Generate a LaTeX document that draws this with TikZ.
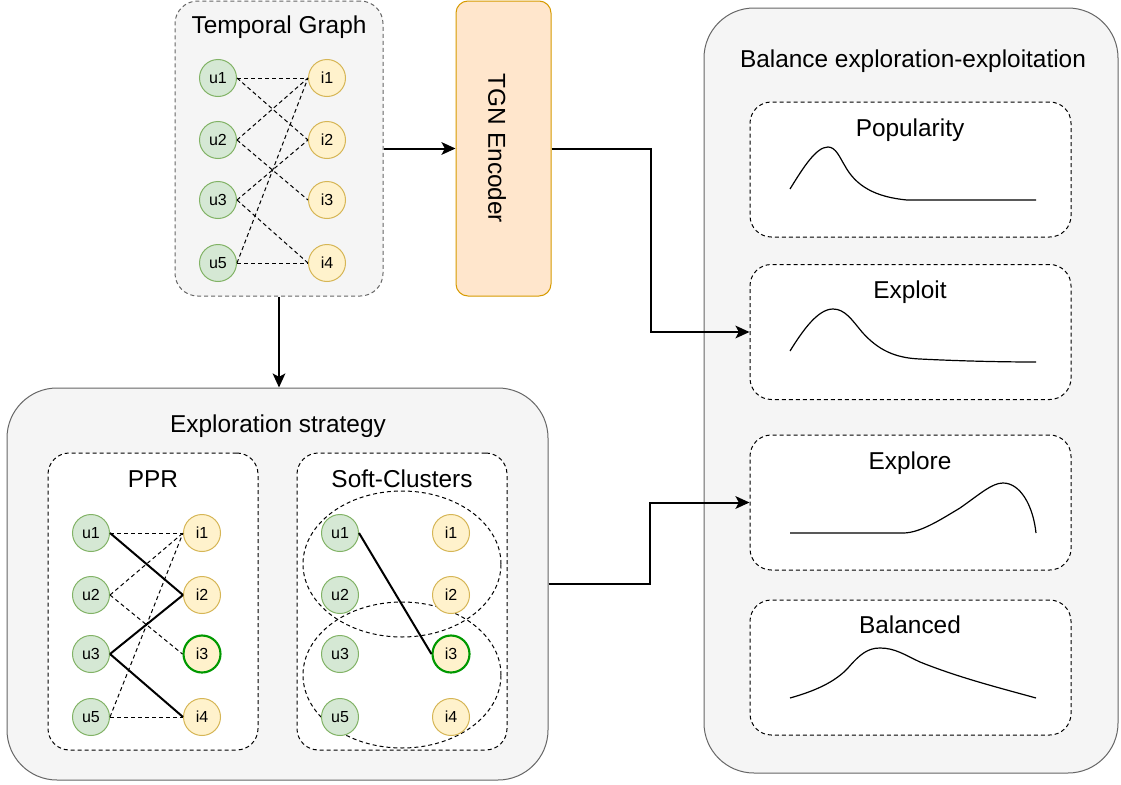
\documentclass[tikz,border=0pt]{standalone}
\usepackage{fontspec}
\setmainfont{Liberation Sans}
\usetikzlibrary{arrows.meta,shapes.geometric}
\definecolor{panelfill}{HTML}{F5F5F5}
\definecolor{panelline}{HTML}{666666}
\definecolor{userfill}{HTML}{D5E8D4}
\definecolor{userline}{HTML}{82B366}
\definecolor{itemfill}{HTML}{FFF2CC}
\definecolor{itemline}{HTML}{D6B656}
\definecolor{encfill}{HTML}{FFE6CC}
\definecolor{encline}{HTML}{D79B00}
\definecolor{hitline}{HTML}{009900}

\begin{document}
\begin{tikzpicture}[x=0.75pt,y=-0.75pt,
  panel/.style={draw=panelline, fill=panelfill, line width=0.75pt, rounded corners=37.5pt, inner sep=0},
  graphpanel/.style={draw=panelline, fill=panelfill, line width=0.75pt, dash pattern=on 3pt off 2.25pt, rounded corners=17pt, inner sep=0},
  subpanel/.style={draw=black, fill=white, line width=0.75pt, dash pattern=on 3pt off 2.25pt, rounded corners=16pt, inner sep=0},
  encoder/.style={draw=encline, fill=encfill, line width=0.75pt, rounded corners=9pt, inner sep=0},
  title/.style={font=\fontsize{18.3}{21}\selectfont, anchor=base, inner sep=0},
  user/.style={circle, draw=userline, fill=userfill, line width=0.75pt, minimum size=27.75pt, inner sep=0, font=\fontsize{12}{14}\selectfont},
  item/.style={circle, draw=itemline, fill=itemfill, line width=0.75pt, minimum size=27.75pt, inner sep=0, font=\fontsize{12}{14}\selectfont},
  hit/.style={draw=hitline, line width=1.6pt},
  link/.style={line width=0.75pt, dash pattern=on 3pt off 2.25pt},
  path/.style={line width=1.5pt},
  cluster/.style={ellipse, draw=black, line width=0.75pt, dash pattern=on 3pt off 2.25pt, inner sep=0},
  conn/.style={line width=1.5pt, -{Stealth[length=10.5pt,width=9.5pt,inset=2.5pt]}},
  curve/.style={line width=0.9pt, line join=round},
]
% canvas
\fill[white] (0,0) rectangle (1121,785);
\useasboundingbox (0,0) rectangle (1121,785);

% ---------- containers ----------
\node[graphpanel, minimum width=156pt, minimum height=221.25pt] (tg) at (279,148.5) {};
\node[title] (tgtitle) at (279,33) {Temporal Graph};

\node[encoder, minimum width=71.25pt, minimum height=221.25pt] (tgn) at (503.5,148.5) {};
\node[font=\fontsize{18.3}{21}\selectfont, rotate=-90, inner sep=0] (tgnlabel) at (497,148.5) {TGN Encoder};

\node[panel, minimum width=405.75pt, minimum height=294pt] (expl) at (277.5,584) {};
\node[title] (expltitle) at (278,432) {Exploration strategy};

\node[subpanel, minimum width=157.5pt, minimum height=222.75pt] (ppr) at (153,601.5) {};
\node[title] (pprtitle) at (153,487) {PPR};

\node[subpanel, minimum width=157.5pt, minimum height=222.75pt] (soft) at (402,601.5) {};
\node[title] (softtitle) at (402,487) {Soft-Clusters};

\node[panel, minimum width=310.5pt, minimum height=573.75pt] (bal) at (911,390.5) {};
\node[title] (baltitle) at (913,67) {Balance exploration-exploitation};

\node[subpanel, minimum width=240.75pt, minimum height=101.25pt] (pop) at (910.5,169.5) {};
\node[title] (poptitle) at (910,136) {Popularity};
\node[subpanel, minimum width=240.75pt, minimum height=101.25pt] (exploit) at (910.5,332) {};
\node[title] (exploittitle) at (910,298) {Exploit};
\node[subpanel, minimum width=240.75pt, minimum height=101.25pt] (explore) at (910.5,502.5) {};
\node[title] (exploretitle) at (910,469) {Explore};
\node[subpanel, minimum width=240.75pt, minimum height=101.25pt] (balanced) at (910.5,667.5) {};
\node[title] (balancedtitle) at (910,633) {Balanced};

% ---------- score curves ----------
\draw[curve] (790,189) .. controls (803,168) and (816,147) .. (828,147)
  .. controls (836,147) and (840,158) .. (845,166)
  .. controls (856,186) and (875,197) .. (907,200) -- (1036,200);
\draw[curve] (790,351) .. controls (803,330) and (818,309) .. (833,309)
  .. controls (845,309) and (852,320) .. (862,332)
  .. controls (878,350) and (895,358) .. (920,359)
  .. controls (960,361) and (1000,362) .. (1036,362);
\draw[curve] (790,533) -- (903,533)
  .. controls (920,533) and (940,520) .. (960,508)
  .. controls (980,494) and (992,483) .. (1003,483)
  .. controls (1020,483) and (1033,505) .. (1036,533);
\draw[curve] (790,698) .. controls (815,691) and (835,682) .. (848,668)
  .. controls (860,654) and (868,648) .. (880,648)
  .. controls (895,648) and (905,655) .. (920,662)
  .. controls (960,678) and (1000,688) .. (1036,698);

% ---------- soft clusters ----------
\node[cluster, minimum width=148.5pt, minimum height=109.5pt] (clA) at (402,564) {};
\node[cluster, minimum width=148.5pt, minimum height=109.5pt] (clB) at (402,675) {};

% ---------- temporal graph ----------
\node[user] (tu1) at (218,78) {u1};
\node[user] (tu2) at (218,140) {u2};
\node[user] (tu3) at (218,200) {u3};
\node[user] (tu5) at (218,263) {u5};
\node[item] (ti1) at (327,78) {i1};
\node[item] (ti2) at (327,140) {i2};
\node[item] (ti3) at (327,200) {i3};
\node[item] (ti4) at (327,263) {i4};
\draw[link] (tu1.east) -- (ti1.west);
\draw[link] (tu1.east) -- (ti2.west);
\draw[link] (tu2.east) -- (ti1.west);
\draw[link] (tu2.east) -- (ti3.west);
\draw[link] (tu3.east) -- (ti2.west);
\draw[link] (tu3.east) -- (ti4.west);
\draw[link] (tu5.east) -- (ti1.west);
\draw[link] (tu5.east) -- (ti4.west);

% ---------- PPR ----------
\node[user] (pu1) at (91,533) {u1};
\node[user] (pu2) at (91,595) {u2};
\node[user] (pu3) at (91,654) {u3};
\node[user] (pu5) at (91,717) {u5};
\node[item] (pi1) at (202,533) {i1};
\node[item] (pi2) at (202,595) {i2};
\node[item, hit] (pi3) at (202,654) {i3};
\node[item] (pi4) at (202,717) {i4};
\draw[link] (pu1.east) -- (pi1.west);
\draw[link] (pu2.east) -- (pi1.west);
\draw[link] (pu2.east) -- (pi3.west);
\draw[link] (pu5.east) -- (pi1.west);
\draw[link] (pu5.east) -- (pi4.west);
\draw[path] (pu1.east) -- (pi2.west);
\draw[path] (pu3.east) -- (pi2.west);
\draw[path] (pu3.east) -- (pi4.west);

% ---------- Soft-Clusters ----------
\node[user] (su1) at (340,533) {u1};
\node[user] (su2) at (340,595) {u2};
\node[user] (su3) at (340,654) {u3};
\node[user] (su5) at (340,717) {u5};
\node[item] (si1) at (451,533) {i1};
\node[item] (si2) at (451,595) {i2};
\node[item, hit] (si3) at (451,654) {i3};
\node[item] (si4) at (451,717) {i4};
\draw[path] (su1.east) -- (si3.west);

% ---------- connectors ----------
\draw[conn] (tg.east) -- (tgn.west);
\draw[conn] (tg.south) -- (tg.south |- expl.north);
\draw[conn] (tgn.east) -- ++(99,0) |- (exploit.west);
\draw[conn] (expl.east) -- ++(101,0) |- (explore.west);
\end{tikzpicture}
\end{document}
